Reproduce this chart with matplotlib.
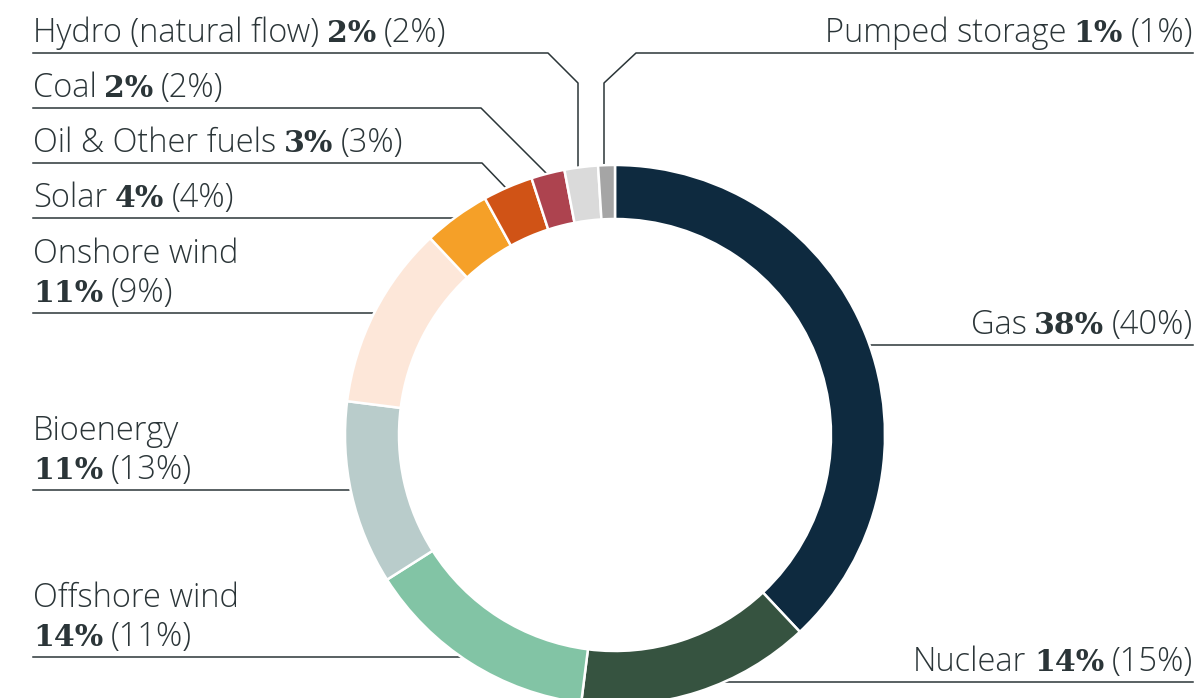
import numpy as np
import matplotlib
matplotlib.use("Agg")
import matplotlib.pyplot as plt

# fuel mix, share this year and (last year)
labels = ['Gas', 'Nuclear', 'Offshore wind', 'Bioenergy', 'Onshore wind',
          'Solar', 'Oil & Other fuels', 'Coal', 'Hydro (natural flow)', 'Pumped storage']
share = [38, 14, 14, 11, 11, 4, 3, 2, 2, 1]
prev = [40, 15, 11, 13, 9, 4, 3, 2, 2, 1]
colors = ['#0e2a3f', '#365340', '#82c4a5', '#b9cccb', '#fde7d9',
          '#f5a028', '#d05316', '#ad434f', '#dadada', '#a5a5a5']

W, H = 1200, 698
txt_col = '#2b3538'
sans = 'Open Sans'
serif = 'DejaVu Serif'
fs = 23.5

fig = plt.figure(figsize=(W / 100, H / 100), dpi=100)
ax = fig.add_axes([0, 0, 1, 1])

# ring geometry (pixel units, y measured from top)
cx, cy, R, ring_w = 615, 435, 270, 54

def Y(y):
    return H - y

ax.pie(share, colors=colors, startangle=90, counterclock=False,
       center=(cx, Y(cy)), radius=R, frame=True,
       wedgeprops=dict(width=ring_w, edgecolor='white', linewidth=1.8))
ax.set_xlim(0, W)
ax.set_ylim(0, H)
ax.set_aspect('equal')
ax.axis('off')

renderer = fig.canvas.get_renderer()
gap = 7.5

def style(bold):
    if bold:
        return dict(family=serif, fontweight='bold', fontsize=21.5)
    return dict(family=sans, fontweight='light', fontsize=fs)

def segs_width(segs):
    w = 0
    for s, bold in segs:
        t = ax.text(0, 0, s, **style(bold))
        w += t.get_window_extent(renderer).width
        t.remove()
    return w + gap * (len(segs) - 1)

def draw_line(x0, y_base, segs, align='left'):
    x = x0 if align == 'left' else x0 - segs_width(segs)
    for s, bold in segs:
        t = ax.text(x, Y(y_base), s, color=txt_col, va='baseline', **style(bold))
        x += t.get_window_extent(renderer).width + gap

def ring_x(y, side):
    return cx + side * np.sqrt(R ** 2 - (y - cy) ** 2)

# label layout: (line y, two-line?, side, elbow points)
layout = {
    'Hydro (natural flow)': (53, False, -1, [(548, 53), (578, 83), (578, 170)]),
    'Pumped storage': (53, False, 1, [(636, 53), (604, 83), (604, 170)]),
    'Coal': (108, False, -1, [(481, 108), (547, 174)]),
    'Oil & Other fuels': (163, False, -1, [(482, 163), (506, 188)]),
    'Solar': (218, False, -1, None),
    'Onshore wind': (313, True, -1, None),
    'Bioenergy': (490, True, -1, None),
    'Offshore wind': (657, True, -1, None),
    'Gas': (345, False, 1, None),
    'Nuclear': (682, False, 1, None),
}

for name, s, p in zip(labels, share, prev):
    ly, two, side, elbow = layout[name]
    xt = 33 if side < 0 else 1193
    align = 'left' if side < 0 else 'right'
    nums = [(f'{s}%', True), (f'({p}%)', False)]
    if two:
        draw_line(xt, ly - 50, [(name, False)], align)
        draw_line(xt, ly - 11, nums, align)
    else:
        draw_line(xt, ly - 11, [(name, False)] + nums, align)
    if elbow is None:
        xs = [xt, ring_x(ly, side)]
        ys = [ly, ly]
    else:
        xs = [xt] + [e[0] for e in elbow]
        ys = [ly] + [e[1] for e in elbow]
    ax.plot(xs, [Y(v) for v in ys], color=txt_col, lw=1.1, zorder=0)

fig.savefig('out.png', dpi=100)
